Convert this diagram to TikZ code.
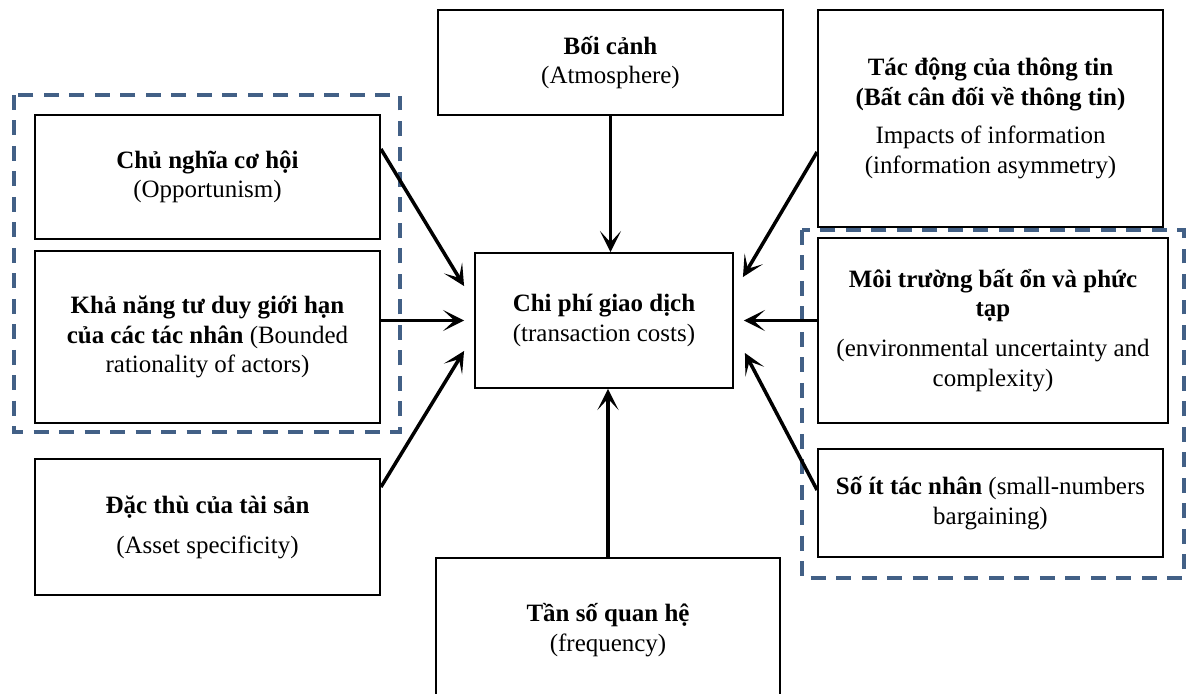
\documentclass[tikz,border=0pt]{standalone}
\usepackage{fontspec}
\setmainfont{Liberation Serif}
\usepackage{tikz}
\usepackage{xcolor}
\usetikzlibrary{arrows.meta,positioning,calc}
\definecolor{GroupBlue}{RGB}{66,96,134}

\begin{document}
\begin{tikzpicture}[x=0.02cm,y=-0.02cm,
    box/.style={draw, line width=1.1pt, align=center, inner sep=0pt,
      font=\fontsize{14.2}{16.8}\selectfont},
    arr/.style={line width=2pt, -{Stealth[length=12pt,width=12pt,inset=6.5pt]}},
    group/.style={draw=GroupBlue, line width=2.3pt, dash pattern=on 8.5pt off 6pt}]
      \useasboundingbox (0,0) rectangle (1186,693);
      % groups
      \draw[group] (14,95) rectangle (400,432);
      \draw[group] (802,230) rectangle (1184,578);
      % centre
      \node[box, minimum width=5.16cm, minimum height=2.7cm] (chiphi) at (604,320.5)
        {\textbf{Chi phí giao dịch}\\(transaction costs)};
      % left side
      \node[box, minimum width=6.9cm, minimum height=2.48cm] (chunghia) at (207.5,177)
        {\textbf{Chủ nghĩa cơ hội}\\(Opportunism)};
      \node[box, minimum width=6.9cm, minimum height=3.44cm] (khanang) at (207.5,337)
        {\textbf{Khả năng tư duy giới hạn}\\\textbf{của các tác nhân} (Bounded\\rationality of actors)};
      \node[box, minimum width=6.9cm, minimum height=2.72cm] (dacthu) at (207.5,527)
        {\textbf{Đặc thù của tài sản}\\[6pt](Asset specificity)};
      % top and bottom
      \node[box, minimum width=6.9cm, minimum height=2.1cm] (boicanh) at (610.5,62.5)
        {\textbf{Bối cảnh}\\(Atmosphere)};
      \node[box, minimum width=6.88cm, minimum height=2.88cm] (tanso) at (608,630)
        {\textbf{Tần số quan hệ}\\(frequency)};
      % right side
      \node[box, minimum width=6.9cm, minimum height=4.34cm] (tacdong) at (990.5,118.5)
        {\textbf{Tác động của thông tin}\\\textbf{(Bất cân đối về thông tin)}\\[5pt]Impacts of information\\(information asymmetry)};
      \node[box, minimum width=7.0cm, minimum height=3.7cm] (moitruong) at (993,330.5)
        {\textbf{Môi trường bất ổn và phức}\\\textbf{tạp}\\[6pt](environmental uncertainty and\\complexity)};
      \node[box, minimum width=6.9cm, minimum height=2.16cm] (soit) at (990.5,503)
        {\textbf{Số ít tác nhân} (small-numbers\\bargaining)};
      % arrows into the centre
      \draw[arr] (boicanh.south) -- (boicanh.south |- chiphi.north);
      \draw[arr] (tanso.north) -- (tanso.north |- chiphi.south);
      \draw[arr] ([yshift=-0.7cm]chunghia.north east) -- ([shift={(-0.2cm,-0.68cm)}]chiphi.north west);
      \draw[arr] (khanang.east |- chiphi.west) -- ([xshift=-0.2cm]chiphi.west);
      \draw[arr] ([yshift=-0.58cm]dacthu.north east) -- ([shift={(-0.2cm,0.76cm)}]chiphi.south west);
      \draw[arr] ([yshift=-0.67cm]tacdong.west) -- ([shift={(0.18cm,-0.5cm)}]chiphi.north east);
      \draw[arr] (moitruong.west |- chiphi.east) -- ([xshift=0.2cm]chiphi.east);
      \draw[arr] ([yshift=0.26cm]soit.west) -- ([shift={(0.22cm,0.72cm)}]chiphi.south east);
    \end{tikzpicture}
\end{document}
